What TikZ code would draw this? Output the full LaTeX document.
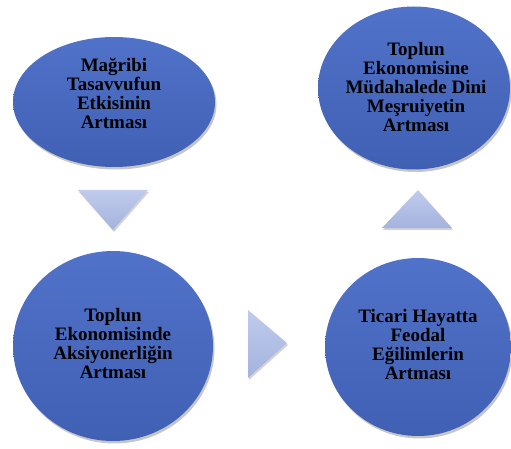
\documentclass[tikz,border=0pt]{standalone}
\usepackage{fontspec}
\setmainfont{Liberation Serif}
\usetikzlibrary{shapes.geometric,shadows}

\definecolor{bubbletop}{RGB}{80,114,200}
\definecolor{bubblebot}{RGB}{64,96,180}
\definecolor{wedgedark}{RGB}{164,179,222}
\definecolor{wedgelight}{RGB}{192,203,236}

\tikzset{
  bubble/.style={ellipse, inner sep=0pt, top color=bubbletop, bottom color=bubblebot,
    drop shadow={shadow xshift=1.5pt, shadow yshift=-2.5pt, opacity=.45}},
  bubbletext/.style={font=\fontsize{19}{19}\selectfont\bfseries, align=center, inner sep=0pt},
  wedge/.style={top color=wedgelight, bottom color=wedgedark,
    drop shadow={shadow xshift=1pt, shadow yshift=-2pt, opacity=.35}}
}

\begin{document}
\begin{tikzpicture}[x=1pt,y=-1pt]

  % Page frame
  \useasboundingbox (0,0) rectangle (511,449);

  % Bubbles
  \node[bubble, minimum width=202pt, minimum height=130pt] (magribi)  at (114,102) {};
  \node[bubble, minimum width=192pt, minimum height=163pt] (dini)     at (414,88)  {};
  \node[bubble, minimum width=200pt, minimum height=190pt] (aksiyon)  at (113,346) {};
  \node[bubble, minimum width=186pt, minimum height=178pt] (feodal)   at (418,347) {};

  % Texts
  \node[bubbletext] (magribitext) at (114,93)  {Mağribi\\Tasavvufun\\Etkisinin\\Artması};
  \node[bubbletext] (dinitext)    at (416,87)  {Toplun\\Ekonomisine\\Müdahalede Dini\\Meşruiyetin\\Artması};
  \node[bubbletext] (aksiyontext) at (113,343) {Toplun\\Ekonomisinde\\Aksiyonerliğin\\Artması};
  \node[bubbletext] (feodaltext)  at (418,344) {Ticari Hayatta\\Feodal\\Eğilimlerin\\Artması};

  % Arrows between bubbles
  \path[wedge] (78,190) -- (148,190) -- (113,230) -- cycle;   % down
  \path[wedge] (248,310) -- (287,343) -- (248,378) -- cycle;  % right
  \path[wedge] (382,228) -- (418,190) -- (452,228) -- cycle;  % up

\end{tikzpicture}
\end{document}
